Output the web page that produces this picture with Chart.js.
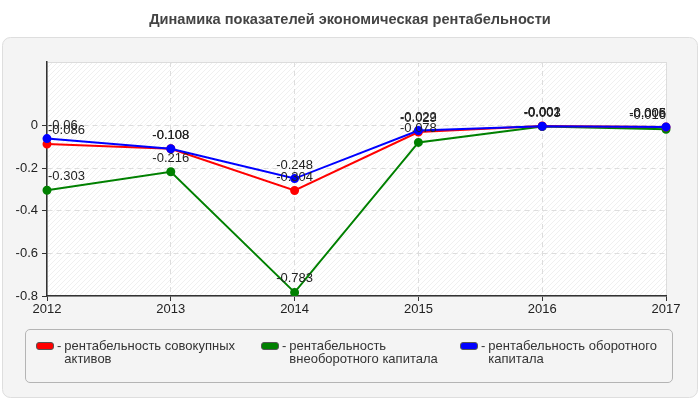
<!DOCTYPE html>
<html>
<head>
<meta charset="utf-8">
<script src="https://cdn.jsdelivr.net/npm/chart.js@4"></script>
<style>
  html, body { margin: 0; padding: 0; background: #fff; }
  #wrap { position: relative; width: 700px; height: 400px; }
  #legend {
    position: absolute; left: 25px; top: 329px; width: 646px; height: 52px;
    border: 1px solid #b4b4b4; border-radius: 5px;
    font-family: Arial, "Liberation Sans", sans-serif; font-size: 13px; color: #333;
  }
  .item { position: absolute; top: 9px; display: flex; line-height: 13px; }
  .sw { width: 16px; height: 6px; border: 1px solid #555; border-radius: 3px; margin-top: 3px; }
  .dash { margin: 0 3px 0 3px; }
  .txt { width: 178px; }
</style>
</head>
<body>
<div id="wrap">
  <canvas id="chart" width="700" height="400"></canvas>
  <div id="legend"></div>
</div>
<script>
// Динамика показателей экономическая рентабельности

const chartTitle = 'Динамика показателей экономическая рентабельности';
const years = ['2012', '2013', '2014', '2015', '2016', '2017'];
const assetsReturn = [-0.086, -0.108, -0.304, -0.029, -0.001, -0.006];
const nonCurrentReturn = [-0.303, -0.216, -0.783, -0.078, -0.003, -0.016];
const currentReturn = [-0.06, -0.108, -0.248, -0.022, -0.002, -0.005];
const seriesNames = [
  'рентабельность совокупных активов',
  'рентабельность внеоборотного капитала',
  'рентабельность оборотного капитала'
];
const seriesColors = ['#ff0000', '#008000', '#0000ff'];
const yTicks = [0, -0.2, -0.4, -0.6, -0.8];

const FONT = 'Arial, "Liberation Sans", sans-serif';

// фон с диагональной штриховкой
function makeHatch(ctx){
  const c = document.createElement('canvas');
  c.width = 5; c.height = 5;
  const g = c.getContext('2d');
  g.fillStyle = '#ffffff'; g.fillRect(0,0,5,5);
  g.strokeStyle = '#f0f0f0'; g.lineWidth = 1;
  g.beginPath();
  g.moveTo(0,5); g.lineTo(5,0);
  g.moveTo(-2.5,2.5); g.lineTo(2.5,-2.5);
  g.moveTo(2.5,7.5); g.lineTo(7.5,2.5);
  g.stroke();
  return ctx.createPattern(c, 'repeat');
}

function roundRect(ctx, x, y, w, h, r){
  ctx.beginPath();
  ctx.moveTo(x+r, y);
  ctx.arcTo(x+w, y, x+w, y+h, r);
  ctx.arcTo(x+w, y+h, x, y+h, r);
  ctx.arcTo(x, y+h, x, y, r);
  ctx.arcTo(x, y, x+w, y, r);
  ctx.closePath();
}

const backgroundPlugin = {
  id: 'panel',
  beforeDraw(chart){
    const ctx = chart.ctx;
    const a = chart.chartArea;
    ctx.save();
    ctx.fillStyle = '#ffffff';
    ctx.fillRect(0, 0, chart.width, chart.height);
    // заголовок
    ctx.fillStyle = '#444';
    ctx.font = 'bold 14.6px ' + FONT;
    ctx.textAlign = 'center';
    ctx.textBaseline = 'middle';
    ctx.fillText(chartTitle, 350, 20);
    roundRect(ctx, 2.5, 37.5, 695, 360, 8);
    ctx.fillStyle = '#f4f4f4'; ctx.fill();
    ctx.strokeStyle = '#dedede'; ctx.lineWidth = 1; ctx.stroke();
    ctx.fillStyle = makeHatch(ctx);
    ctx.fillRect(a.left, a.top, a.right - a.left, a.bottom - a.top);
    ctx.strokeStyle = '#dcdcdc';
    ctx.strokeRect(a.left + 0.5, a.top + 0.5, a.right - a.left, a.bottom - a.top);
    ctx.restore();
  }
};

// подписи значений над точками
const valueLabels = {
  id: 'valueLabels',
  afterDatasetsDraw(chart){
    const ctx = chart.ctx;
    const a = chart.chartArea;
    ctx.save();
    ctx.font = '13px ' + FONT;
    ctx.fillStyle = '#222';
    ctx.textBaseline = 'bottom';
    ctx.textAlign = 'left';
    chart.data.datasets.forEach((ds, i) => {
      const meta = chart.getDatasetMeta(i);
      meta.data.forEach((pt, j) => {
        const text = String(ds.data[j]);
        const w = ctx.measureText(text).width;
        let x = pt.x - w / 2;
        if (x < a.left) x = a.left + 1;
        if (x + w > a.right) x = a.right - w;
        ctx.fillText(text, x, pt.y - 7);
      });
    });
    ctx.restore();
  }
};

const series = [assetsReturn, nonCurrentReturn, currentReturn];
const drawOrder = [2, 3, 1];

const datasets = series.map((vals, i) => ({
  label: seriesNames[i],
  data: vals,
  borderColor: seriesColors[i],
  backgroundColor: seriesColors[i],
  borderWidth: 2,
  pointRadius: 3.5,
  pointHoverRadius: 3.5,
  tension: 0,
  order: drawOrder[i]
}));

new Chart(document.getElementById('chart'), {
  type: 'line',
  data: { labels: years, datasets },
  options: {
    responsive: false,
    animation: false,
    layout: { padding: { left: 0, right: 34, top: 62, bottom: 84 } },
    plugins: {
      legend: { display: false },
      tooltip: { enabled: false },
      title: { display: false }
    },
    scales: {
      x: {
        offset: false,
        grid: { color: '#dddddd', tickColor: '#333', tickLength: 5, tickBorderDash: [] },
        border: { color: '#333', width: 1.5, dash: [5, 4] },
        ticks: { color: '#222', font: { family: FONT, size: 13 }, padding: 1, maxRotation: 0 },
        afterFit(s){ s.height = 20; }
      },
      y: {
        min: -0.8,
        max: 0.3,
        grid: { color: '#dddddd', tickColor: '#333', tickLength: 5, tickBorderDash: [] },
        border: { color: '#333', width: 1.5, dash: [5, 4] },
        ticks: {
          color: '#222', font: { family: FONT, size: 13 }, padding: 4,
          callback: v => String(+(+v).toFixed(2))
        },
        afterBuildTicks(s){ s.ticks = yTicks.map(v => ({ value: v })); },
        afterFit(s){ s.width = 47; }
      }
    }
  },
  plugins: [backgroundPlugin, valueLabels]
});

// легенда
const legend = document.getElementById('legend');
const itemLeft = [10, 235, 434];
seriesNames.forEach((name, i) => {
  const item = document.createElement('div');
  item.className = 'item';
  item.style.left = itemLeft[i] + 'px';
  item.innerHTML = '<div class="sw" style="background:' + seriesColors[i] + '"></div>' +
    '<span class="dash">-</span><div class="txt">' + name + '</div>';
  legend.appendChild(item);
});
</script>
</body>
</html>
